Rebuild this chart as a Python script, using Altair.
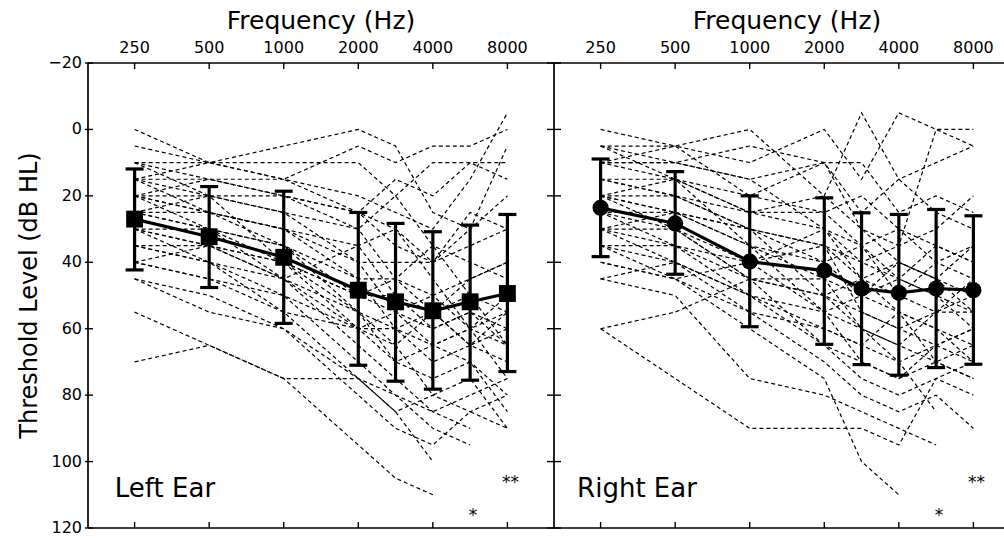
import altair as alt
import pandas as pd

# ---------------- data ----------------
FREQS = [250, 500, 1000, 2000, 3000, 4000, 6000, 8000]
TICK_FREQS = [250, 500, 1000, 2000, 4000, 8000]
TICK_LABELS = ["250", "500", "1000", "2000", "4000", "8000"]
Y_TICKS = [-20, 0, 20, 40, 60, 80, 100, 120]
Y_TICK_LABELS = ["\u221220", "0", "20", "40", "60", "80", "100", "120"]

LEFT_MEAN = [27.0, 32.3, 38.5, 48.4, 51.9, 54.6, 51.9, 49.4]
LEFT_SD_TOP = [11.9, 17.2, 18.6, 25.0, 28.3, 30.8, 28.8, 25.6]
LEFT_SD_BOTTOM = [42.3, 47.6, 58.4, 71.0, 75.8, 78.2, 75.5, 72.9]

RIGHT_MEAN = [23.6, 28.3, 39.8, 42.5, 47.9, 49.2, 47.9, 48.4]
RIGHT_SD_TOP = [8.9, 12.7, 20.0, 20.6, 25.1, 25.6, 24.1, 26.0]
RIGHT_SD_BOTTOM = [38.3, 43.6, 59.4, 64.7, 70.8, 74.0, 71.7, 70.7]

# individual audiograms (dB HL at FREQS), None = no response
LEFT_SUBJECTS = [
    [0, 10, 5, 0, 5, 25, 30, 5],
    [10, 10, 10, 10, 20, 10, 10, 10],
    [5, 10, 15, 5, 10, 5, 5, 0],
    [10, 15, 15, 20, 25, 30, 15, -5],
    [15, 15, 20, 25, 35, 40, 25, 30],
    [15, 20, 25, 30, 20, 35, 50, 55],
    [20, 20, 25, 40, 40, 40, 30, 20],
    [20, 25, 30, 35, 50, 55, 45, 40],
    [20, 25, 35, 45, 45, 50, 60, 55],
    [25, 25, 30, 40, 55, 60, 55, 60],
    [25, 30, 35, 50, 50, 60, 55, 65],
    [25, 30, 40, 55, 65, 55, 65, 60],
    [30, 30, 35, 55, 60, 70, 65, 55],
    [30, 35, 40, 50, 55, 65, 70, 80],
    [30, 35, 45, 60, 55, 50, 45, 40],
    [35, 35, 45, 55, 70, 75, 70, 85],
    [35, 40, 50, 60, 65, 80, 75, 90],
    [35, 40, 45, 65, 75, 85, 90, None],
    [40, 45, 50, 70, 80, 90, 95, None],
    [40, 45, 55, 75, 85, 100, None, None],
    [45, 50, 60, 75, 85, 80, 85, 80],
    [45, 55, 60, 80, 90, 95, 85, 90],
    [55, 65, 75, 95, 105, 110, None, None],
    [70, 65, 75, 75, 80, 85, 80, 75],
    [20, 30, 45, 35, 30, 40, 35, 30],
    [15, 25, 30, 45, 60, 55, 50, 65],
    [10, 20, 40, 60, 60, 65, 60, 75],
    [25, 20, 20, 25, 30, 45, 60, 50],
    [30, 40, 55, 60, 70, 65, 60, 65],
    [40, 35, 40, 50, 45, 55, 65, 70],
    [15, 10, 15, 25, 15, 20, 10, 15],
    [20, 15, 20, 30, 45, 35, 40, 45],
]
RIGHT_SUBJECTS = [
    [0, 5, 0, 20, -5, 15, 25, 30],
    [5, 5, 10, 0, 15, -5, 0, 0],
    [5, 10, 15, 10, 30, 35, 0, 5],
    [10, 5, 20, 10, 10, 25, 20, 25],
    [10, 15, 20, 25, 20, 30, 35, 40],
    [15, 15, 25, 30, 40, 35, 30, 20],
    [15, 20, 30, 35, 45, 40, 45, 35],
    [20, 25, 30, 40, 35, 50, 55, 45],
    [20, 25, 35, 45, 50, 45, 50, 55],
    [20, 30, 40, 35, 55, 60, 55, 50],
    [25, 25, 35, 40, 50, 55, 60, 65],
    [25, 30, 45, 50, 55, 60, 65, 60],
    [25, 35, 40, 55, 60, 65, 55, 55],
    [30, 30, 45, 45, 60, 70, 65, 70],
    [30, 35, 50, 60, 65, 55, 70, 75],
    [30, 40, 50, 55, 70, 75, 70, 65],
    [35, 35, 45, 65, 75, 80, 75, 80],
    [35, 40, 55, 70, 80, 85, 80, 90],
    [40, 45, 55, 60, 65, 70, 85, None],
    [40, 45, 60, 75, 100, 110, None, None],
    [60, 55, 45, 50, 45, 50, 40, 45],
    [60, 75, 90, 90, 90, 95, 75, 70],
    [45, 50, 75, 80, 85, 90, 95, None],
    [15, 20, 25, 20, 30, 40, 45, 50],
    [10, 10, 15, 30, 35, 45, 50, 60],
    [20, 20, 30, 50, 60, 65, 70, 75],
    [30, 25, 30, 35, 40, 45, 35, 40],
    [35, 45, 40, 30, 45, 55, 60, 70],
    [5, 15, 35, 55, 50, 40, 45, 55],
    [45, 40, 50, 65, 70, 75, 65, 60],
    [10, 10, 5, 10, 25, 15, 10, 5],
    [20, 15, 25, 25, 35, 30, 40, 35],
]

EAR_LABELS = ["Left Ear", "Right Ear"]
X_TITLE = "Frequency (Hz)"
Y_TITLE = "Threshold Level (dB HL)"
# no-response counts marked with asterisks: (ear, frequency, text, dB position)
ASTERISKS = [
    ("Left", 6000, "*", 118.0),
    ("Left", 8000, "**", 108.0),
    ("Right", 6000, "*", 118.0),
    ("Right", 8000, "**", 108.0),
]

# ---------------- layout helpers ----------------
OCTAVE = {250: 0, 500: 1, 1000: 2, 2000: 3, 3000: 3.5, 4000: 4, 6000: 4.5, 8000: 5}
MARGIN = 0.625
PANEL = 6.25
W, H = 916, 465
PX_PER_OCT = 466 / PANEL
XMAX = W / PX_PER_OCT
FONT = "DejaVu Sans"
INK = "black"


def xpos(ear, f):
    return (PANEL if ear == "Right" else 0.0) + MARGIN + OCTAVE[f]


ind_rows = []
for ear, subjects in (("Left", LEFT_SUBJECTS), ("Right", RIGHT_SUBJECTS)):
    for i, vals in enumerate(subjects):
        for f, v in zip(FREQS, vals):
            if v is not None:
                ind_rows.append({"sid": f"{ear}{i}", "x": xpos(ear, f), "db": v})
df_ind = pd.DataFrame(ind_rows)

stat_rows = []
for ear, m, lo, hi in (("Left", LEFT_MEAN, LEFT_SD_TOP, LEFT_SD_BOTTOM),
                       ("Right", RIGHT_MEAN, RIGHT_SD_TOP, RIGHT_SD_BOTTOM)):
    for f, a, b, c in zip(FREQS, m, lo, hi):
        stat_rows.append({"ear": ear, "x": xpos(ear, f), "mean": a, "lo": b, "hi": c})
df_stat = pd.DataFrame(stat_rows)

XS = alt.Scale(domain=[0, XMAX], nice=False, zero=False)
YS = alt.Scale(domain=[-20, 120], reverse=True, nice=False, zero=False)

tick_pos = [MARGIN + OCTAVE[f] for f in TICK_FREQS] + [PANEL + MARGIN + OCTAVE[f] for f in TICK_FREQS]


def X(field="x:Q"):
    return alt.X(field, scale=XS, axis=None)


def Y(field):
    return alt.Y(field, scale=YS, axis=None)


individual = alt.Chart(df_ind).mark_line(
    strokeDash=[4, 3], strokeWidth=1.2, color=INK
).encode(x=X(), y=Y("db:Q"), detail="sid:N")

bars = alt.Chart(df_stat).mark_rule(strokeWidth=3.2, color=INK).encode(
    x=X(), y=Y("lo:Q"), y2="hi:Q"
)
cap_top = alt.Chart(df_stat).mark_rule(strokeWidth=3.2, color=INK, xOffset=-9, x2Offset=9).encode(
    x=X(), x2="x:Q", y=Y("lo:Q")
)
cap_bot = alt.Chart(df_stat).mark_rule(strokeWidth=3.2, color=INK, xOffset=-9, x2Offset=9).encode(
    x=X(), x2="x:Q", y=Y("hi:Q")
)
mean_line = alt.Chart(df_stat).mark_line(strokeWidth=3.2, color=INK).encode(
    x=X(), y=Y("mean:Q"), detail="ear:N"
)
squares = alt.Chart(df_stat).transform_filter(alt.datum.ear == "Left").mark_square(
    size=285, color=INK, opacity=1
).encode(x=X(), y=Y("mean:Q"))
circles = alt.Chart(df_stat).transform_filter(alt.datum.ear == "Right").mark_circle(
    size=260, color=INK, opacity=1
).encode(x=X(), y=Y("mean:Q"))

# frame: top, bottom, left and divider lines
df_h = pd.DataFrame({"x": [0.0, 0.0], "x2": [XMAX, XMAX], "y": [-20, 120]})
h_lines = alt.Chart(df_h).mark_rule(strokeWidth=1.7, color=INK).encode(
    x=X(), x2="x2:Q", y=Y("y:Q")
)
df_v = pd.DataFrame({"x": [0.0, PANEL], "y": [-20, -20], "y2": [120, 120]})
v_lines = alt.Chart(df_v).mark_rule(strokeWidth=1.7, color=INK).encode(
    x=X(), y=Y("y:Q"), y2="y2:Q"
)
df_xt_top = pd.DataFrame({"x": tick_pos, "y": [-20] * len(tick_pos)})
df_xt_bot = pd.DataFrame({"x": tick_pos, "y": [120] * len(tick_pos)})
top_ticks = alt.Chart(df_xt_top).mark_rule(strokeWidth=1.4, color=INK, y2Offset=6).encode(
    x=X(), y=Y("y:Q"), y2="y:Q"
)
bot_ticks = alt.Chart(df_xt_bot).mark_rule(strokeWidth=1.4, color=INK, y2Offset=-6).encode(
    x=X(), y=Y("y:Q"), y2="y:Q"
)
df_yt_left = pd.DataFrame({"x": [0.0] * len(Y_TICKS), "y": Y_TICKS})
df_yt_div = pd.DataFrame({"x": [PANEL] * len(Y_TICKS), "y": Y_TICKS})
left_ticks = alt.Chart(df_yt_left).mark_rule(strokeWidth=1.4, color=INK, xOffset=-3, x2Offset=5).encode(
    x=X(), x2="x:Q", y=Y("y:Q")
)
div_ticks = alt.Chart(df_yt_div).mark_rule(strokeWidth=1.4, color=INK, xOffset=-7, x2Offset=7).encode(
    x=X(), x2="x:Q", y=Y("y:Q")
)

# tick labels
df_xl = pd.DataFrame({"x": tick_pos, "label": TICK_LABELS * 2})
x_labels = alt.Chart(df_xl).mark_text(
    font=FONT, fontSize=16, color=INK, align="center", baseline="alphabetic"
).encode(x=X(), y=alt.value(-10), text="label:N")
df_yl = pd.DataFrame({"x": [0.0] * len(Y_TICKS), "y": Y_TICKS, "label": Y_TICK_LABELS})
y_labels = alt.Chart(df_yl).mark_text(
    font=FONT, fontSize=16, color=INK, align="right", baseline="middle", dx=-6
).encode(x=X(), y=Y("y:Q"), text="label:N")

# titles
df_titles = pd.DataFrame({"x": [PANEL / 2, PANEL + PANEL / 2], "label": [X_TITLE] * 2})
titles = alt.Chart(df_titles).mark_text(
    font=FONT, fontSize=25, color=INK, align="center", baseline="alphabetic"
).encode(x=X(), y=alt.value(-34), text="label:N")
df_yt = pd.DataFrame({"label": [Y_TITLE]})
y_title = alt.Chart(df_yt).mark_text(
    font=FONT, fontSize=24, color=INK, align="center", baseline="middle", angle=270
).encode(x=alt.value(-58), y=alt.value(H / 2), text="label:N")

df_ears = pd.DataFrame({"x": [0.36, PANEL + 0.31], "y": [110.7, 110.7], "label": EAR_LABELS})
ears = alt.Chart(df_ears).mark_text(
    font=FONT, fontSize=26, color=INK, align="left", baseline="alphabetic"
).encode(x=X(), y=Y("y:Q"), text="label:N")

df_ast = pd.DataFrame([{"x": xpos(e, f), "y": d, "label": t} for e, f, t, d in ASTERISKS])
asts = alt.Chart(df_ast).mark_text(
    font=FONT, fontSize=17, color=INK, align="center", baseline="alphabetic", dx=3
).encode(x=X(), y=Y("y:Q"), text="label:N")

chart = alt.layer(
    individual, bars, cap_top, cap_bot, mean_line, squares, circles,
    h_lines, v_lines, top_ticks, bot_ticks, left_ticks, div_ticks,
    x_labels, y_labels, titles, y_title, ears, asts,
).properties(
    width=W, height=H,
    autosize=alt.AutoSizeParams(type="none"),
    padding={"left": 88, "top": 63, "right": 0, "bottom": 10},
    background="white",
).configure_view(stroke=None)

chart.save("out.html", embed_options={"renderer": "svg", "actions": False})
